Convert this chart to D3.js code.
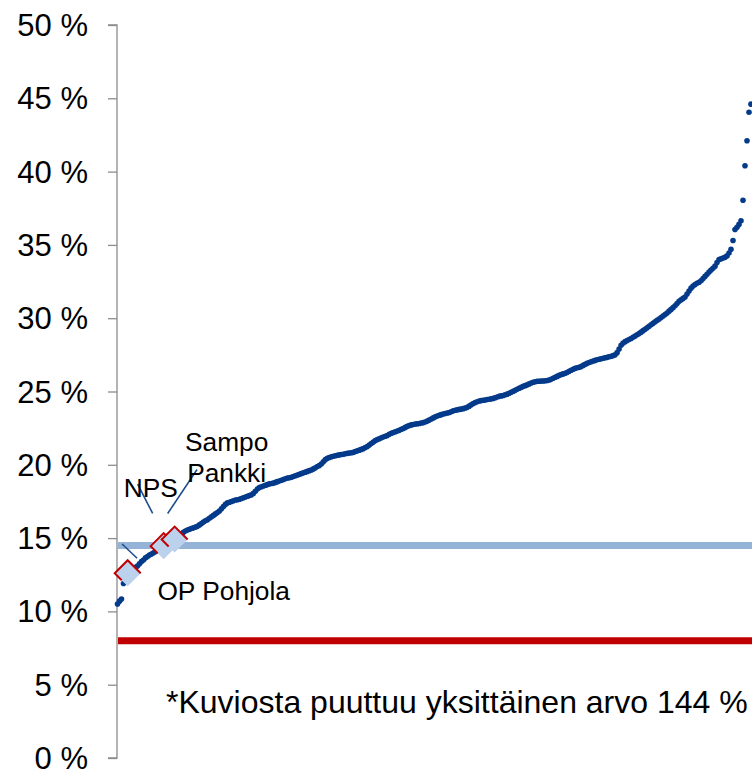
<!DOCTYPE html>
<html>
<head>
<meta charset="utf-8">
<script src="https://cdn.jsdelivr.net/npm/d3@7"></script>
<style>
  html, body { margin: 0; padding: 0; background: #fff; }
  svg { display: block; font-family: "Liberation Sans", Arial, sans-serif; }
</style>
</head>
<body>
<div id="chart"></div>
<script>
// ---- Data ----
// Sorted ratios (%) for each institution, in rank order
const ratios = [
10.50,10.70,10.85,11.90,12.20,12.45,12.65,12.80,12.90,13.00,
13.10,13.25,13.40,13.50,13.65,13.75,13.85,13.92,14.00,14.08,
14.15,14.22,14.30,14.38,14.45,14.55,14.65,14.80,14.90,15.00,
15.10,15.20,15.30,15.40,15.48,15.55,15.60,15.65,15.70,15.75,
15.80,15.90,16.00,16.10,16.18,16.25,16.35,16.45,16.55,16.65,
16.75,16.85,17.00,17.15,17.30,17.40,17.45,17.50,17.55,17.60,
17.62,17.65,17.70,17.75,17.80,17.85,17.90,17.95,18.05,18.20,
18.35,18.45,18.50,18.55,18.60,18.65,18.70,18.72,18.75,18.80,
18.85,18.90,18.95,19.00,19.05,19.10,19.12,19.15,19.20,19.25,
19.30,19.35,19.40,19.45,19.50,19.55,19.60,19.65,19.72,19.80,
19.88,19.95,20.05,20.20,20.35,20.45,20.50,20.55,20.58,20.62,
20.65,20.68,20.70,20.72,20.75,20.78,20.80,20.82,20.85,20.90,
20.95,21.00,21.05,21.10,21.18,21.25,21.35,21.45,21.55,21.65,
21.72,21.78,21.85,21.90,21.95,22.00,22.08,22.15,22.20,22.25,
22.30,22.35,22.42,22.48,22.55,22.62,22.68,22.72,22.75,22.78,
22.80,22.82,22.85,22.88,22.92,22.98,23.05,23.12,23.20,23.27,
23.33,23.38,23.42,23.47,23.50,23.53,23.57,23.62,23.68,23.72,
23.75,23.78,23.80,23.83,23.87,23.92,24.00,24.10,24.18,24.25,
24.30,24.35,24.38,24.40,24.42,24.45,24.47,24.50,24.53,24.57,
24.62,24.67,24.70,24.73,24.78,24.82,24.88,24.95,25.02,25.08,
25.15,25.22,25.28,25.35,25.40,25.45,25.52,25.58,25.63,25.67,
25.70,25.70,25.72,25.72,25.73,25.75,25.78,25.83,25.90,25.97,
26.03,26.10,26.15,26.20,26.25,26.30,26.38,26.45,26.52,26.58,
26.62,26.65,26.70,26.78,26.85,26.92,26.98,27.03,27.08,27.12,
27.17,27.20,27.23,27.27,27.30,27.33,27.37,27.40,27.45,27.50,
27.65,27.90,28.15,28.30,28.40,28.48,28.55,28.62,28.70,28.78,
28.87,28.95,29.05,29.15,29.25,29.35,29.45,29.55,29.65,29.75,
29.85,29.95,30.05,30.15,30.25,30.35,30.48,30.60,30.72,30.85,
31.00,31.15,31.25,31.35,31.45,31.65,31.85,32.05,32.20,32.30,
32.38,32.45,32.55,32.70,32.85,33.00,33.15,33.28,33.40,33.55,
33.80,34.00,34.05,34.10,34.15,34.25,34.45,34.70,35.30,36.05,
36.20,36.40,36.65,38.05,40.40,42.10,44.05,44.60
];

// Highlighted banks: rank position and ratio (%)
const bankNames = ["OP Pohjola", "NPS", "Sampo Pankki"];
const bankRank  = [5.1, 23.1, 28.6];
const bankValue = [12.6, 14.45, 14.9];

// Reference lines (%)
const refLineNames  = ["benchmark", "minimum"];
const refLineValues = [14.5, 8.0];

// Y-axis tick values (%)
const yTicks = [0, 5, 10, 15, 20, 25, 30, 35, 40, 45, 50];

const footnote = "*Kuviosta puuttuu yksittäinen arvo 144 %";

// ---- Layout ----
const W = 752, H = 772;
const axisX = 117;
const plotRight = 752;
const yTop = 25, yBottom = 758;

const svg = d3.select("#chart").append("svg")
  .attr("width", W).attr("height", H);

const y = d3.scaleLinear().domain([0, 50]).range([yBottom, yTop]);
const x = d3.scaleLinear().domain([0, ratios.length - 1]).range([117.5, 751]);

// Y axis
const yAxis = d3.axisLeft(y)
  .tickValues(yTicks)
  .tickSize(9)
  .tickPadding(20)
  .tickFormat(d => d + " %");

const gAxis = svg.append("g")
  .attr("transform", `translate(${axisX},0)`)
  .call(yAxis);
gAxis.select(".domain")
  .attr("d", `M-9,${y(50)}H0V${y(0)}H-9`)
  .attr("stroke", "#8c8c8c").attr("stroke-width", 1.3).attr("fill", "none");
gAxis.selectAll(".tick line").attr("stroke", "#8c8c8c").attr("stroke-width", 1.3);
gAxis.selectAll(".tick text")
  .attr("fill", "#000")
  .style("font-size", "31px")
  .style("font-family", "'Liberation Sans', Arial, sans-serif")
  .attr("dy", "0.34em");

// Reference lines
const refColors = ["#95b3d7", "#c00000"];
svg.selectAll("line.ref").data(refLineValues).enter().append("line")
  .attr("class", "ref")
  .attr("x1", axisX + 1).attr("x2", plotRight)
  .attr("y1", d => y(d)).attr("y2", d => y(d))
  .attr("stroke", (d, i) => refColors[i])
  .attr("stroke-width", 7);

// Scatter points
svg.append("g").selectAll("circle").data(ratios).enter().append("circle")
  .attr("cx", (d, i) => x(i))
  .attr("cy", d => y(d))
  .attr("r", 2.8)
  .attr("fill", "#043a8a");

// Leader lines (relative to each bank marker)
const leaderOffsets = [
  [[-5.6, -29.3], [9.4, -15]],
  [[-26, -62], [-11, -32.7]],
  [[22.4, -70], [-7, -26]]
];
const bankPts = bankRank.map((r, i) => [x(r), y(bankValue[i])]);
svg.append("g").selectAll("line").data(leaderOffsets).enter().append("line")
  .attr("x1", (d, i) => bankPts[i][0] + d[0][0])
  .attr("y1", (d, i) => bankPts[i][1] + d[0][1])
  .attr("x2", (d, i) => bankPts[i][0] + d[1][0])
  .attr("y2", (d, i) => bankPts[i][1] + d[1][1])
  .attr("stroke", "#1f4e8c").attr("stroke-width", 1.6);

// Diamond markers
const h = 13;
const gm = svg.append("g").selectAll("g").data(bankPts).enter().append("g")
  .attr("transform", d => `translate(${d[0]},${d[1]})`);
gm.append("path")
  .attr("d", `M${-h},0L0,${-h}L${h},0L0,${h}Z`)
  .attr("fill", "#bcd1ec");
gm.append("path")
  .attr("d", `M${-h + 7},${7}L${-h},0L0,${-h}L${h},0`)
  .attr("fill", "none")
  .attr("stroke", "#c00000")
  .attr("stroke-width", 2)
  .attr("stroke-linejoin", "miter");

// Labels
const lab = svg.append("g")
  .style("font-family", "'Liberation Sans', Arial, sans-serif")
  .style("font-size", "26.3px")
  .attr("fill", "#000");
lab.append("text").attr("x", bankPts[0][0] + 29.7).attr("y", bankPts[0][1] + 27).text(bankNames[0]);
lab.append("text").attr("x", bankPts[1][0] - 40).attr("y", bankPts[1][1] - 49).text(bankNames[1]);
const st = lab.append("text").attr("text-anchor", "middle");
st.append("tspan").attr("x", bankPts[2][0] + 52).attr("y", bankPts[2][1] - 89).text(bankNames[2].split(" ")[0]);
st.append("tspan").attr("x", bankPts[2][0] + 52).attr("y", bankPts[2][1] - 57.5).text(bankNames[2].split(" ")[1]);

// Footnote
svg.append("text")
  .attr("x", 166).attr("y", 713)
  .style("font-family", "'Liberation Sans', Arial, sans-serif")
  .style("font-size", "32px")
  .attr("fill", "#000")
  .text(footnote);
</script>
</body>
</html>
